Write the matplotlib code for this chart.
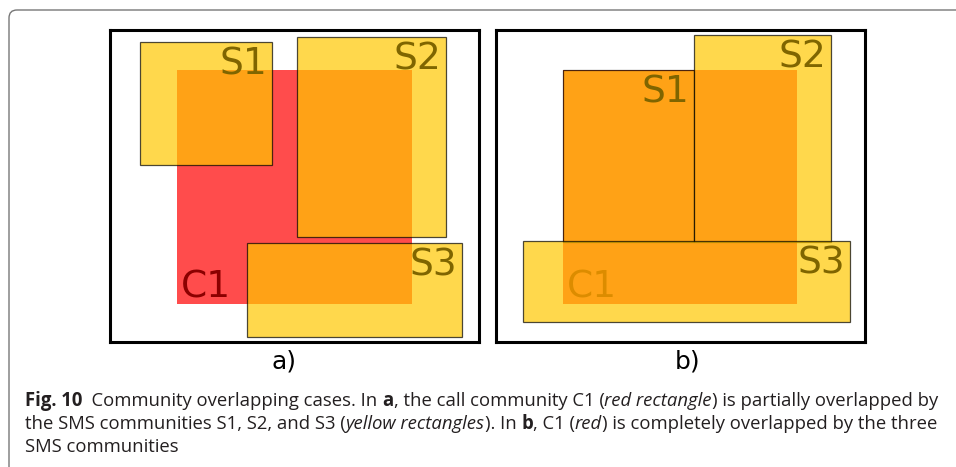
import matplotlib
matplotlib.use("Agg")
import matplotlib.pyplot as plt
from matplotlib.patches import Rectangle, FancyBboxPatch
from matplotlib.transforms import IdentityTransform
from matplotlib import font_manager

# rectangles per panel, in panel pixel units (origin top-left of the black frame)
names = ["C1", "S1", "S2", "S3"]
a_x0 = [67, 30, 187, 137]
a_x1 = [302, 162, 336, 352]
a_y0 = [40, 12, 7, 213]
a_y1 = [274, 135, 207, 307]
b_x0 = [67, 67, 198, 27]
b_x1 = [301, 198, 335, 354]
b_y0 = [40, 40, 5, 211]
b_y1 = [274, 212, 212, 292]
panel_labels = ["a)", "b)"]

caption = [
    [("Fig. 10", "bold", "normal"), ("  Community overlapping cases. In ", "normal", "normal"),
     ("a", "bold", "normal"), (", the call community C1 (", "normal", "normal"),
     ("red rectangle", "normal", "italic"), (") is partially overlapped by", "normal", "normal")],
    [("the SMS communities S1, S2, and S3 (", "normal", "normal"),
     ("yellow rectangles", "normal", "italic"), ("). In ", "normal", "normal"),
     ("b", "bold", "normal"), (", C1 (", "normal", "normal"), ("red", "normal", "italic"),
     (") is completely overlapped by the three", "normal", "normal")],
    [("SMS communities", "normal", "normal")],
]

W, H = 956, 467
fig = plt.figure(figsize=(W / 100, H / 100), dpi=100)

# outer rounded frame (runs off the right and bottom edges)
frame = FancyBboxPatch((9, -40), 1000, H - 10 + 40, boxstyle="round,pad=0,rounding_size=8",
                       transform=IdentityTransform(), fill=False, edgecolor="#777777",
                       linewidth=1.0, figure=fig)
fig.patches.append(frame)

red = (1.0, 0.0, 0.0)
yellow = (1.0, 200 / 255, 0.0)


def panel(left, x0, x1, y0, y1, label, cx):
    ax = fig.add_axes([left / W, (H - 342) / H, 369 / W, 312 / H])
    ax.set_xlim(0, 369)
    ax.set_ylim(312, 0)
    ax.set_xticks([])
    ax.set_yticks([])
    for s in ax.spines.values():
        s.set_linewidth(2.2)
        s.set_color("black")
    # C1 first, then its label, then yellow S rectangles on top
    ax.add_patch(Rectangle((x0[0], y0[0]), x1[0] - x0[0], y1[0] - y0[0],
                           facecolor=red, edgecolor="none", alpha=0.7, zorder=1))
    ax.text(x0[0] + 4, y1[0] - 6, names[0], ha="left", va="baseline",
            fontsize=27, color="#8b0000", zorder=1.5)
    for i in range(1, 4):
        ax.add_patch(Rectangle((x0[i], y0[i]), x1[i] - x0[i], y1[i] - y0[i],
                               facecolor=yellow, edgecolor="black", linewidth=0.9,
                               alpha=0.7, zorder=2))
    for i in range(1, 4):
        ax.text(x1[i] - 5, y0[i] + 33, names[i], ha="right", va="baseline",
                fontsize=27, color="#7f6500", zorder=3)
    fig.text(cx / W, (H - 369) / H, label, ha="center", va="baseline", fontsize=18, color="black")
    return ax


panel(110, a_x0, a_x1, a_y0, a_y1, panel_labels[0], 284)
panel(496, b_x0, b_x1, b_y0, b_y1, panel_labels[1], 688)

# caption font
avail = {f.name for f in font_manager.fontManager.ttflist}
cap_font = "DejaVu Sans"
for f in ["Liberation Sans Narrow", "Open Sans", "Noto Sans"]:
    if f in avail:
        cap_font = f
        break

renderer = fig.canvas.get_renderer()


def run_width(s, size, weight, style):
    t = fig.text(0, 0, "x" + s + "x", fontsize=size, family=cap_font, weight=weight, style=style,
                 transform=IdentityTransform())
    t2 = fig.text(0, 0, "xx", fontsize=size, family=cap_font, weight=weight, style=style,
                  transform=IdentityTransform())
    w = t.get_window_extent(renderer).width - t2.get_window_extent(renderer).width
    t.remove()
    t2.remove()
    return w


# fit first line to its width in the reference
size = 13.0
w1 = sum(run_width(s, size, wt, st) for s, wt, st in caption[0])
size = size * 910 / w1

baselines = [406, 429, 452]
for line, yb in zip(caption, baselines):
    x = 25
    for s, wt, st in line:
        fig.text(x, H - yb, s, fontsize=size, family=cap_font, weight=wt, style=st,
                 color="#231f20", ha="left", va="baseline", transform=IdentityTransform())
        x += run_width(s, size, wt, st)

fig.savefig("out.png", dpi=100)
